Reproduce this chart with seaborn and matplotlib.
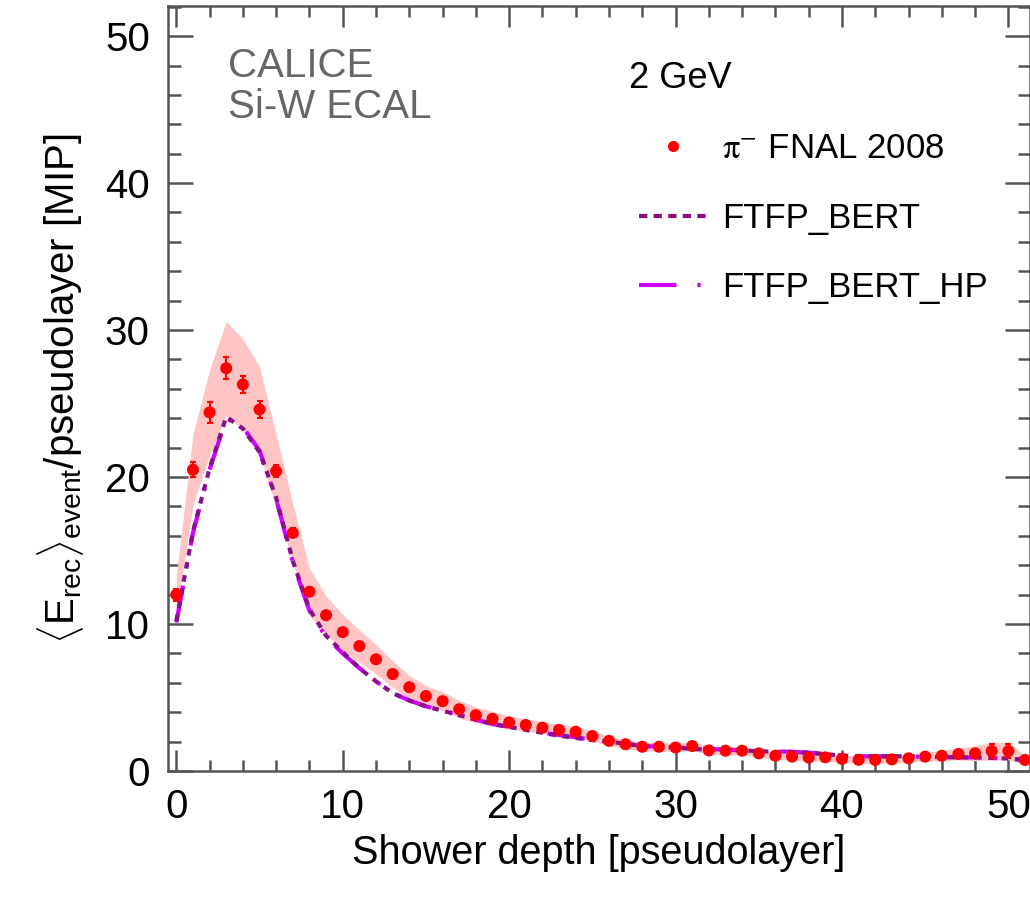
import numpy as np
import pandas as pd
import matplotlib
matplotlib.use("Agg")
import matplotlib.pyplot as plt
import seaborn as sns
from matplotlib.lines import Line2D
from matplotlib.ticker import MultipleLocator

# ---------------- data ----------------
layers = list(range(52))
data_mean = [12.0, 20.5, 24.4, 27.4, 26.3, 24.6, 20.4, 16.2, 12.2, 10.6,
             9.45, 8.5, 7.6, 6.6, 5.7, 5.1, 4.75, 4.2, 3.8, 3.55,
             3.3, 3.13, 2.95, 2.8, 2.67, 2.38, 2.05, 1.82, 1.65, 1.65,
             1.6, 1.7, 1.4, 1.38, 1.38, 1.2, 1.04, 0.98, 0.91, 0.93,
             0.82, 0.76, 0.75, 0.79, 0.86, 0.98, 1.04, 1.16, 1.2, 1.36,
             1.36, 0.75]
data_stat = [0.4, 0.5, 0.7, 0.75, 0.6, 0.6, 0.4, 0.3, 0.25, 0.2,
             0.2, 0.2, 0.15, 0.15, 0.15, 0.1, 0.1, 0.1, 0.1, 0.1,
             0.1, 0.1, 0.1, 0.1, 0.1, 0.1, 0.1, 0.1, 0.1, 0.1,
             0.1, 0.1, 0.1, 0.1, 0.1, 0.1, 0.1, 0.1, 0.1, 0.1,
             0.1, 0.1, 0.1, 0.1, 0.1, 0.15, 0.15, 0.2, 0.3, 0.45,
             0.5, 0.2]
data_syst = [1.3, 2.4, 2.9, 3.2, 3.1, 2.9, 2.5, 2.0, 1.6, 1.3,
             1.2, 1.1, 1.0, 0.9, 0.8, 0.7, 0.65, 0.6, 0.55, 0.5,
             0.45, 0.42, 0.4, 0.38, 0.36, 0.34, 0.32, 0.3, 0.3, 0.3,
             0.3, 0.3, 0.28, 0.28, 0.28, 0.26, 0.25, 0.25, 0.25, 0.25,
             0.25, 0.25, 0.25, 0.25, 0.28, 0.3, 0.35, 0.4, 0.5, 0.6,
             0.6, 0.3]
ftfp_bert = [10.2, 16.3, 20.6, 24.1, 23.3, 21.7, 18.6, 14.3, 11.0, 9.2,
             8.1, 7.0, 6.1, 5.3, 4.8, 4.4, 4.1, 3.8, 3.5, 3.2,
             3.0, 2.8, 2.6, 2.4, 2.25, 2.1, 2.0, 1.85, 1.7, 1.65,
             1.6, 1.5, 1.45, 1.45, 1.4, 1.35, 1.3, 1.3, 1.25, 1.15,
             1.05, 1.0, 1.0, 1.0, 1.0, 0.95, 0.95, 0.93, 0.92, 0.88,
             0.85, 0.75]
ftfp_bert_hp = [10.1, 16.2, 20.5, 24.0, 23.4, 21.8, 18.5, 14.2, 10.9, 9.1,
                8.0, 7.0, 6.1, 5.3, 4.8, 4.4, 4.1, 3.8, 3.5, 3.2,
                3.0, 2.8, 2.6, 2.45, 2.3, 2.1, 2.0, 1.85, 1.7, 1.65,
                1.6, 1.55, 1.5, 1.45, 1.4, 1.35, 1.35, 1.3, 1.25, 1.15,
                1.05, 1.0, 1.0, 1.0, 1.0, 0.95, 0.95, 0.93, 0.92, 0.88,
                0.85, 0.75]

legend_labels = [r"$\mathrm{\pi}^{-}$ FNAL 2008", "FTFP_BERT", "FTFP_BERT_HP"]
energy_label = "2 GeV"
experiment_label = "CALICE\nSi-W ECAL"

df = pd.DataFrame({"layer": layers, "data": data_mean, "stat": data_stat,
                   "syst": data_syst, "bert": ftfp_bert, "bert_hp": ftfp_bert_hp})

# ---------------- style ----------------
sns.set_theme(style="ticks")
plt.rcParams["font.family"] = ["Liberation Sans", "DejaVu Sans"]
plt.rcParams["mathtext.fontset"] = "custom"
plt.rcParams["mathtext.rm"] = "Liberation Sans"
plt.rcParams["mathtext.it"] = "Liberation Sans:italic"
plt.rcParams["text.color"] = "black"
plt.rcParams["axes.labelcolor"] = "black"
plt.rcParams["xtick.labelcolor"] = "black"
plt.rcParams["ytick.labelcolor"] = "black"

fig = plt.figure(figsize=(10.3, 9.0), dpi=100)
ax = fig.add_axes([168 / 1030, 1 - 771 / 900, 862 / 1030, 765 / 900])

red = "#ff0000"
c_bert = "#8a108a"
c_hp = "#d000ff"

# systematic band
ax.fill_between(df["layer"], df["data"] - df["syst"], df["data"] + df["syst"],
                color="#ffc4c4", linewidth=0, zorder=1)

# simulations
sns.lineplot(data=df, x="layer", y="bert_hp", ax=ax, color=c_hp, linewidth=3.0,
             linestyle=(0, (9, 4.5, 0.8, 4.5)), zorder=3)
sns.lineplot(data=df, x="layer", y="bert", ax=ax, color=c_bert, linewidth=3.0,
             linestyle=(0, (1.6, 1.6)), zorder=4)

# data
ax.errorbar(df["layer"], df["data"], yerr=df["stat"], fmt="none",
            ecolor=red, elinewidth=1.5, capsize=2, capthick=1.5, zorder=5)
sns.scatterplot(data=df, x="layer", y="data", ax=ax, color=red, s=75,
                edgecolor="none", zorder=6)

# axes
ax.set_xlim(-0.5, 51.3)
ax.set_ylim(0, 52.05)
ax.xaxis.set_major_locator(MultipleLocator(10))
ax.xaxis.set_minor_locator(MultipleLocator(2))
ax.yaxis.set_major_locator(MultipleLocator(10))
ax.yaxis.set_minor_locator(MultipleLocator(2))
ax.tick_params(axis="both", which="both", direction="in", top=True, right=True,
               color="#555555", width=1.8, labelcolor="black")
ax.tick_params(axis="y", which="major", length=18, pad=13, labelsize=29)
ax.tick_params(axis="y", which="minor", length=9)
ax.tick_params(axis="x", which="major", length=15, pad=12, labelsize=29)
ax.tick_params(axis="x", which="minor", length=8)
for sp in ax.spines.values():
    sp.set_color("#555555")
    sp.set_linewidth(1.8)

ax.set_xlabel("Shower depth [pseudolayer]", fontsize=28.5, labelpad=6,
              color="black")
ax.set_ylabel(r"$\langle\mathrm{E}_{\mathrm{rec}}\rangle_{\mathrm{event}}$/pseudolayer [MIP]",
              fontsize=29, labelpad=14, color="black")

ax.text(0.07, 0.947, experiment_label, transform=ax.transAxes, fontsize=29,
        color="#666666", va="top", ha="left", linespacing=1.12)
ax.text(0.535, 0.928, energy_label, transform=ax.transAxes, fontsize=26,
        color="black", va="top", ha="left")

handles = [
    Line2D([], [], color=red, marker="o", linestyle="none", markersize=7),
    Line2D([], [], color=c_bert, linewidth=3.0, linestyle=(0, (2, 1.5))),
    Line2D([], [], color=c_hp, linewidth=3.0, linestyle=(0, (9, 5, 0.8, 5))),
]
leg = ax.legend(handles, legend_labels, loc="upper left",
                bbox_to_anchor=(0.53, 0.853), frameon=False, fontsize=25,
                handlelength=2.0, handletextpad=0.4, labelspacing=1.05,
                borderaxespad=0)
leg.get_texts()[0].set_math_fontfamily("stix")

fig.savefig("out.png", dpi=100)
